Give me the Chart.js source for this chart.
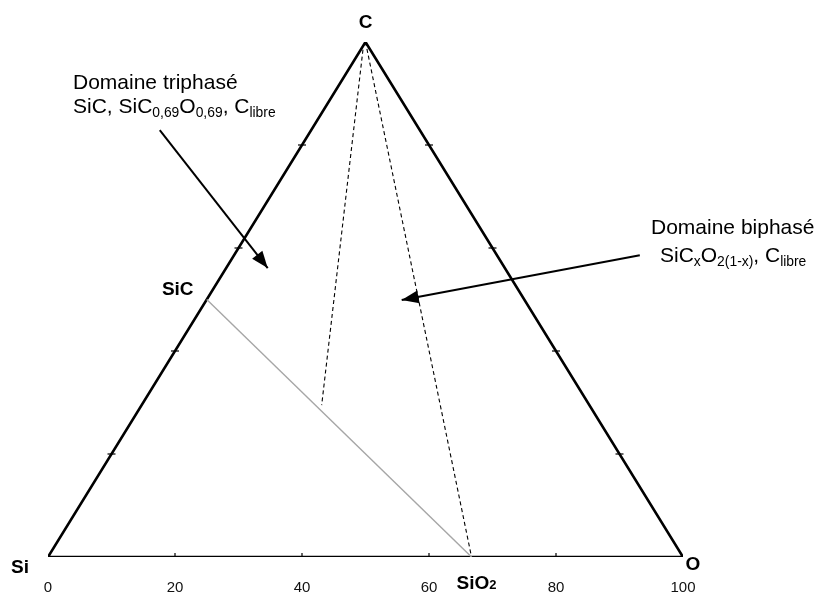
<!DOCTYPE html>
<html>
<head>
<meta charset="utf-8">
<script src="https://cdn.jsdelivr.net/npm/chart.js@4/dist/chart.umd.min.js"></script>
<style>
  html, body { margin: 0; padding: 0; background: #fff; }
  #wrap { width: 818px; height: 593px; }
</style>
</head>
<body>
<div id="wrap"><canvas id="ternary"></canvas></div>
<script>
// axis along the base (O content, %)
var xTicks = [0, 20, 40, 60, 80, 100];
var sideTicks = [20, 40, 60, 80];

// triangle Si - O - C (x = O + C/2, y = C)
var triangleX = [0, 100, 50, 0];
var triangleY = [0, 0, 100, 0];

// SiC - SiO2 tie line
var tieX = [25, 66.7];
var tieY = [50, 0];

// dashed boundaries from C
var dashRightX = [50, 66.7];
var dashRightY = [100, 0];
var dashLeftX = [49.6, 43.1];
var dashLeftY = [98.5, 29.5];

// arrows
var arrowTriX = [17.6, 34.6];
var arrowTriY = [82.9, 56.1];
var arrowBiX = [93.2, 55.7];
var arrowBiY = [58.6, 49.9];

function pts(xs, ys) {
    return xs.map(function (x, i) { return { x: x, y: ys[i] }; });
}

var baseTickPts = sideTicks.map(function (f) { return { x: f, y: 0 }; });
var leftTickPts = sideTicks.map(function (f) { return { x: f / 2, y: f }; });
var rightTickPts = sideTicks.map(function (f) { return { x: 100 - f / 2, y: f }; });

var FONT = '"Liberation Sans", Arial, sans-serif';
var BOLD = 'bold 19px "Liberation Sans Narrow", "Liberation Sans", Arial, sans-serif';

function drawRich(ctx, parts, x, y, size) {
    var cx = x;
    parts.forEach(function (p) {
        var s = p.sub ? size * 0.66 : size;
        ctx.font = s + 'px ' + FONT;
        ctx.fillText(p.t, cx, y + (p.sub ? size * 0.2 : 0));
        cx += ctx.measureText(p.t).width;
    });
}

function arrowHead(ctx, chart, xs, ys) {
    var sx = chart.scales.x, sy = chart.scales.y;
    var x1 = sx.getPixelForValue(xs[0]), y1 = sy.getPixelForValue(ys[0]);
    var x2 = sx.getPixelForValue(xs[1]), y2 = sy.getPixelForValue(ys[1]);
    var a = Math.atan2(y2 - y1, x2 - x1);
    var len = 17, half = 6.5;
    ctx.save();
    ctx.translate(x2, y2);
    ctx.rotate(a);
    ctx.beginPath();
    ctx.moveTo(0, 0);
    ctx.lineTo(-len, -half);
    ctx.lineTo(-len, half);
    ctx.closePath();
    ctx.fillStyle = '#000';
    ctx.fill();
    ctx.restore();
}

var labelsPlugin = {
    id: 'ternaryLabels',
    afterDatasetsDraw: function (chart) {
        var ctx = chart.ctx;
        var sx = chart.scales.x, sy = chart.scales.y;
        arrowHead(ctx, chart, arrowTriX, arrowTriY);
        arrowHead(ctx, chart, arrowBiX, arrowBiY);

        ctx.save();
        ctx.fillStyle = '#000';
        ctx.textBaseline = 'alphabetic';

        // vertex / compound labels
        ctx.font = BOLD;
        ctx.textAlign = 'center';
        ctx.fillText('C', sx.getPixelForValue(50), sy.getPixelForValue(100) - 14);
        ctx.fillText('Si', sx.getPixelForValue(0) - 28, sy.getPixelForValue(0) + 16);
        ctx.fillText('O', sx.getPixelForValue(100) + 10, sy.getPixelForValue(0) + 13);
        ctx.fillText('SiC', sx.getPixelForValue(25) - 29, sy.getPixelForValue(50) - 5);
        ctx.textAlign = 'left';
        var sio2x = sx.getPixelForValue(66.7) - 15;
        var sio2y = sy.getPixelForValue(0) + 32;
        ctx.fillText('SiO', sio2x, sio2y);
        var w = ctx.measureText('SiO').width;
        ctx.font = 'bold 13px "Liberation Sans Narrow", "Liberation Sans", Arial, sans-serif';
        ctx.fillText('2', sio2x + w, sio2y);

        // domain annotations
        ctx.font = '21px ' + FONT;
        ctx.fillText('Domaine triphasé', 73, 89);
        drawRich(ctx, [
            { t: 'SiC, SiC' }, { t: '0,69', sub: true }, { t: 'O' }, { t: '0,69', sub: true },
            { t: ', C' }, { t: 'libre', sub: true }
        ], 73, 113, 21);

        ctx.font = '21px ' + FONT;
        ctx.fillText('Domaine biphasé', 651, 234);
        drawRich(ctx, [
            { t: 'SiC' }, { t: 'x', sub: true }, { t: 'O' }, { t: '2(1-x)', sub: true },
            { t: ', C' }, { t: 'libre', sub: true }
        ], 660, 262, 21);
        ctx.restore();
    }
};

var lineDs = function (data, color, width, dash) {
    return {
        data: data,
        showLine: true,
        borderColor: color,
        borderWidth: width,
        borderDash: dash || [],
        pointRadius: 0,
        fill: false,
        tension: 0
    };
};

var tickDs = function (data, rotation) {
    return {
        data: data,
        showLine: false,
        pointStyle: 'line',
        pointRotation: rotation,
        pointRadius: 4,
        borderColor: '#000',
        pointBorderWidth: 1.2
    };
};

new Chart(document.getElementById('ternary'), {
    type: 'scatter',
    data: {
        datasets: [
            lineDs(pts(tieX, tieY), '#a6a6a6', 1.4),
            lineDs(pts(dashRightX, dashRightY), '#000', 1.1, [4, 3]),
            lineDs(pts(dashLeftX, dashLeftY), '#000', 1.1, [4, 3]),
            lineDs(pts(triangleX, triangleY), '#000', 2.6),
            lineDs(pts(arrowTriX, arrowTriY), '#000', 2),
            lineDs(pts(arrowBiX, arrowBiY), '#000', 2),
            tickDs(baseTickPts, 90),
            tickDs(leftTickPts, 0),
            tickDs(rightTickPts, 0)
        ]
    },
    options: {
        responsive: true,
        maintainAspectRatio: false,
        animation: false,
        layout: { padding: { left: 48, right: 135, top: 42, bottom: 0 } },
        plugins: {
            legend: { display: false },
            tooltip: { enabled: false }
        },
        scales: {
            x: {
                type: 'linear',
                min: 0,
                max: 100,
                afterBuildTicks: function (scale) {
                    scale.ticks = xTicks.map(function (v) { return { value: v }; });
                },
                afterFit: function (scale) { scale.height = 36; },
                grid: { display: false, drawTicks: false },
                border: { display: false },
                ticks: {
                    padding: 22,
                    maxRotation: 0,
                    color: '#111',
                    font: { size: 15, family: FONT }
                }
            },
            y: {
                type: 'linear',
                min: 0,
                max: 100,
                display: false
            }
        }
    },
    plugins: [labelsPlugin]
});
</script>
</body>
</html>
